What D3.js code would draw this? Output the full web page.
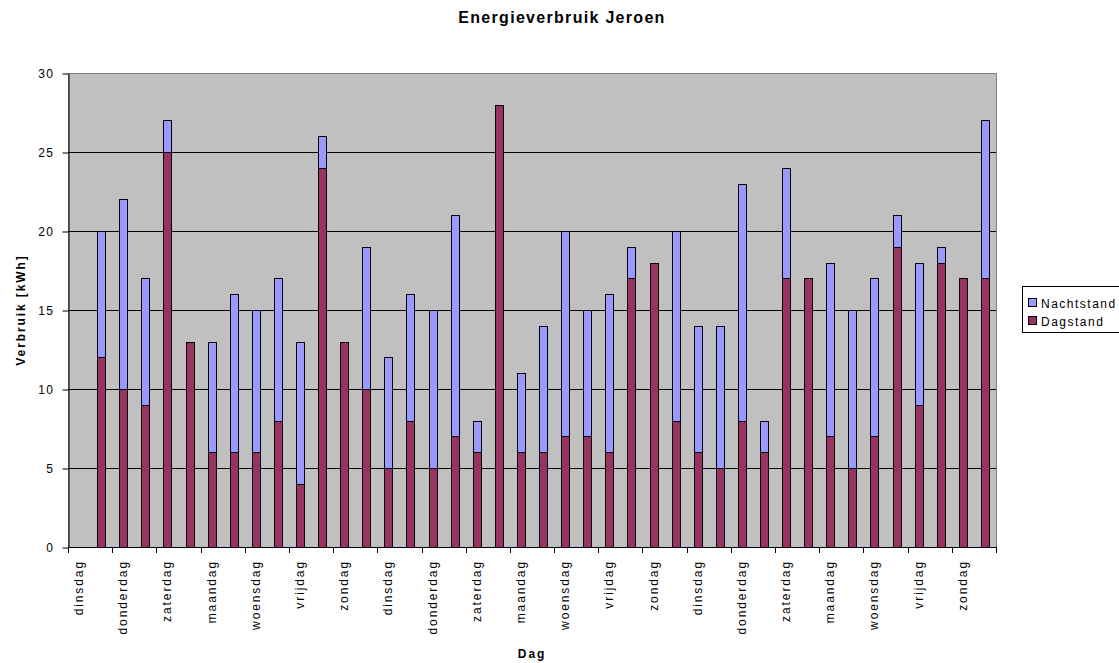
<!DOCTYPE html>
<html><head><meta charset="utf-8">
<script src="https://cdn.jsdelivr.net/npm/d3@7"></script>
<style>
html,body{margin:0;padding:0;background:#fff;}
svg{display:block;font-family:Arial,"Liberation Sans",sans-serif;}
</style></head>
<body>
<svg id="chart" width="1119" height="663"></svg>
<script>
const days = ["dinsdag","woensdag","donderdag","vrijdag","zaterdag","zondag","maandag",
  "dinsdag","woensdag","donderdag","vrijdag","zaterdag","zondag","maandag",
  "dinsdag","woensdag","donderdag","vrijdag","zaterdag","zondag","maandag",
  "dinsdag","woensdag","donderdag","vrijdag","zaterdag","zondag","maandag",
  "dinsdag","woensdag","donderdag","vrijdag","zaterdag","zondag","maandag",
  "dinsdag","woensdag","donderdag","vrijdag","zaterdag","zondag","maandag"];
const dagstand   = [0,12,10,9,25,13,6,6,6,8,4,24,13,10,5,8,5,7,6,28,6,6,7,7,6,17,18,8,6,5,8,6,17,17,7,5,7,19,9,18,17,17];
const nachtstand = [0,8,12,8,2,0,7,10,9,9,9,2,0,9,7,8,10,14,2,0,5,8,13,8,10,2,0,12,8,9,15,2,7,0,11,10,10,2,9,1,0,10];
const yTicks = [0,5,10,15,20,25,30];
const seriesNames = ["Dagstand","Nachtstand"];
const seriesColors = ["#993366","#9999FF"];

(function(){
const svg = d3.select("#chart");
const pl = 68, pr = 996, pt = 73, pb = 547;

const rows = days.map((d,i)=>({i, Dagstand: dagstand[i], Nachtstand: nachtstand[i]}));
const stack = d3.stack().keys(seriesNames)(rows);

const x = d3.scaleBand().domain(d3.range(days.length)).range([pl,pr]).paddingInner(0.64).paddingOuter(0.32);
const xc = d3.scaleBand().domain(d3.range(days.length)).range([pl,pr]).padding(0);
const y = d3.scaleLinear().domain([0,30]).range([pb,pt]);

// plot area
svg.append("rect").attr("x",pl).attr("y",pt).attr("width",pr-pl).attr("height",pb-pt)
  .attr("fill","#C0C0C0").attr("stroke","#808080").attr("stroke-width",1)
  .attr("transform","translate(0.5,0.5)");

// gridlines
svg.append("g").selectAll("line").data(yTicks.filter(t=>t>0&&t<30)).join("line")
  .attr("x1",pl).attr("x2",pr).attr("y1",d=>Math.round(y(d))+0.5).attr("y2",d=>Math.round(y(d))+0.5)
  .attr("stroke","#000").attr("stroke-width",1);

// bars
svg.append("g").selectAll("g").data(stack).join("g")
  .attr("fill",(d,k)=>seriesColors[k])
  .selectAll("rect").data(d=>d.filter(s=>s[1]-s[0]>0)).join("rect")
  .attr("x",d=>Math.round(x(d.data.i))+0.5)
  .attr("width",Math.round(x.bandwidth()))
  .attr("y",d=>Math.round(y(d[1]))+0.5)
  .attr("height",d=>Math.round(y(d[0]))-Math.round(y(d[1])))
  .attr("stroke","#000").attr("stroke-width",1);

// y axis
const yAxis = d3.axisLeft(y).tickValues(yTicks).tickSize(6).tickPadding(8).tickSizeOuter(0);
const gy = svg.append("g").attr("transform",`translate(${pl+0.5},0.5)`).call(yAxis);
gy.select(".domain").attr("stroke","#000");
gy.selectAll(".tick line").attr("stroke","#000");
gy.selectAll("text").attr("font-size",12).attr("fill","#000").attr("letter-spacing","1.5px")
  .attr("font-family","Arial,'Liberation Sans',sans-serif");

// x axis: ticks every 2 categories on boundaries
const xAxisLine = svg.append("g");
xAxisLine.append("line").attr("x1",pl).attr("x2",pr+1).attr("y1",pb+0.5).attr("y2",pb+0.5).attr("stroke","#000");
const tickIdx = d3.range(0, days.length+1, 2);
xAxisLine.selectAll("line.t").data(tickIdx).join("line").attr("class","t")
  .attr("x1",i=>Math.round(i<days.length?xc(i):pr)+0.5).attr("x2",i=>Math.round(i<days.length?xc(i):pr)+0.5)
  .attr("y1",pb).attr("y2",pb+6).attr("stroke","#000");
xAxisLine.selectAll("text").data(d3.range(0,days.length,2)).join("text")
  .attr("transform",i=>`translate(${xc(i)+xc.bandwidth()/2+4},${pb+13}) rotate(-90)`)
  .attr("text-anchor","end").attr("font-size",12).attr("letter-spacing","1.9px")
  .attr("fill","#000").text(i=>days[i]);

// titles
svg.append("text").attr("x",562).attr("y",23).attr("text-anchor","middle")
  .attr("font-size",16).attr("font-weight","bold").attr("letter-spacing","1.3px").text("Energieverbruik Jeroen");
svg.append("text").attr("x",(pl+pr)/2).attr("y",658).attr("text-anchor","middle")
  .attr("font-size",12).attr("font-weight","bold").attr("letter-spacing","1.9px").text("Dag");
svg.append("text").attr("transform",`translate(25,${(pt+pb)/2}) rotate(-90)`).attr("text-anchor","middle")
  .attr("font-size",12).attr("font-weight","bold").attr("letter-spacing","1.9px").text("Verbruik [kWh]");

// legend
const lg = svg.append("g");
lg.append("rect").attr("x",1022.5).attr("y",286.5).attr("width",110).attr("height",46)
  .attr("fill","#fff").attr("stroke","#000");
const legendItems = [{name:"Nachtstand",color:seriesColors[1]},{name:"Dagstand",color:seriesColors[0]}];
lg.selectAll("g").data(legendItems).join("g")
  .attr("transform",(d,k)=>`translate(0,${k*18})`)
  .each(function(d){
    const g = d3.select(this);
    g.append("rect").attr("x",1028.5).attr("y",298.5).attr("width",8).attr("height",8)
      .attr("fill",d.color).attr("stroke","#000");
    g.append("text").attr("x",1041).attr("y",307.5).attr("font-size",12).attr("letter-spacing","1.5px")
      .attr("fill","#000").text(d.name);
  });
})();
</script>
</body></html>
